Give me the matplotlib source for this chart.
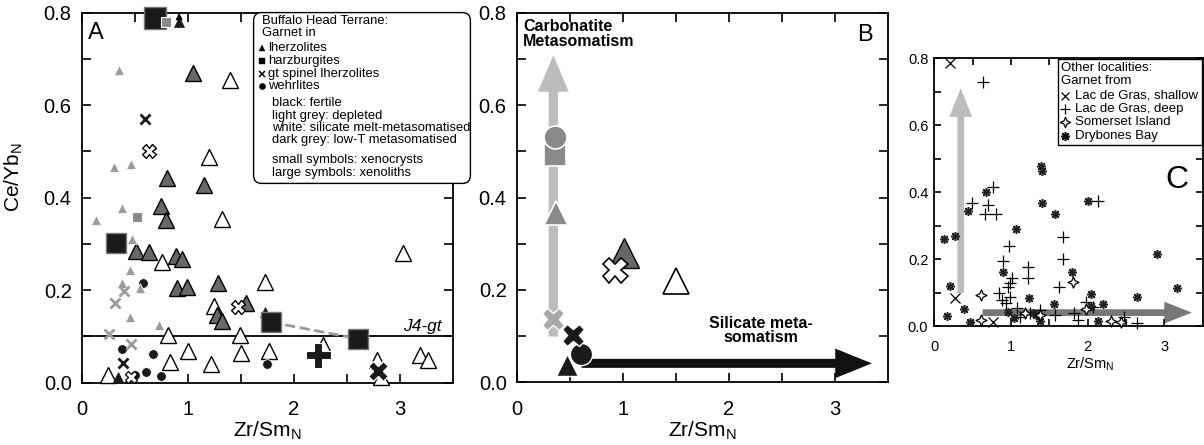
import matplotlib
matplotlib.use('Agg')
import matplotlib.pyplot as plt
from matplotlib.patches import FancyBboxPatch, FancyArrow, Rectangle
from matplotlib.path import Path
from matplotlib.ticker import FormatStrFormatter

plt.rcParams['font.family'] = ['Liberation Sans', 'DejaVu Sans']
plt.rcParams['mathtext.fontset'] = 'custom'
plt.rcParams['mathtext.rm'] = 'Liberation Sans'
plt.rcParams['mathtext.it'] = 'Liberation Sans:italic'

# ---------------- panel A : Buffalo Head Terrane garnets ----------------
a_tri_light_x = [0.35, 0.30, 0.46, 0.377, 0.135, 0.47, 0.455, 0.377, 0.55, 0.455, 0.73]
a_tri_light_y = [0.676, 0.467, 0.472, 0.377, 0.352, 0.31, 0.244, 0.215, 0.204, 0.141, 0.125]

a_tri_dark_x = [1.045, 0.80, 1.15, 0.744, 0.79, 0.51, 0.634, 0.885, 0.947, 0.894, 0.989,
                1.286, 1.271, 1.318, 1.547]
a_tri_dark_y = [0.669, 0.442, 0.427, 0.381, 0.352, 0.285, 0.282, 0.274, 0.267, 0.204, 0.206,
                0.215, 0.146, 0.134, 0.173]

a_tri_white_x = [1.40, 1.20, 1.324, 0.76, 1.726, 1.249, 0.81, 1.49, 1.004, 1.50, 1.76, 0.83,
                 1.215, 2.27, 2.78, 2.82, 3.03, 3.19, 3.26, 0.245]
a_tri_white_y = [0.654, 0.489, 0.355, 0.262, 0.218, 0.166, 0.103, 0.103, 0.069, 0.064, 0.069,
                 0.044, 0.040, 0.081, 0.049, 0.013, 0.28, 0.06, 0.049, 0.017]

a_tri_black_x = [0.918, 1.726, 0.34]
a_tri_black_y = [0.78, 0.153, 0.013]

a_sq_black_x = [0.69, 0.32, 1.78, 2.605]
a_sq_black_y = [0.788, 0.301, 0.131, 0.095]
a_sq_grey_x = [0.79, 0.518]
a_sq_grey_y = [0.78, 0.359]

a_x_black_x = [0.60, 0.386]
a_x_black_y = [0.570, 0.042]
a_x_light_x = [0.40, 0.314, 0.26, 0.464]
a_x_light_y = [0.199, 0.172, 0.105, 0.084]
a_x_white_x = [0.634, 1.469]
a_x_white_y = [0.501, 0.163]
a_x_white_small_x = [0.464]
a_x_white_small_y = [0.012]
a_x_big_x = [2.79]
a_x_big_y = [0.026]

a_circ_black_x = [0.574, 0.377, 0.675, 1.742, 0.50, 0.605, 0.744]
a_circ_black_y = [0.215, 0.073, 0.062, 0.040, 0.017, 0.024, 0.0145]

a_plus_x = [2.228]
a_plus_y = [0.060]

j4_level = 0.1

# ---------------- panel B : averages ----------------
b_grey_circle = (0.36, 0.530)
b_grey_square = (0.36, 0.492)
b_grey_tri = (0.37, 0.366)
b_light_x = (0.345, 0.136)
b_black_x = (0.533, 0.102)
b_black_circle = (0.61, 0.061)
b_black_tri = (0.47, 0.037)
b_dark_tri = (1.01, 0.279)
b_white_x = (0.925, 0.242)
b_white_tri = (1.505, 0.22)

b_carb_arrow_x = [0.345, 0.345]
b_carb_arrow_y = [0.099, 0.708]
b_sil_arrow_x = [0.61, 3.345]
b_sil_arrow_y = [0.041, 0.041]

# ---------------- panel C : other localities ----------------
c_shallow_x = [0.2, 0.27, 0.77]
c_shallow_y = [0.786, 0.083, 0.013]

c_deep_x = [0.64, 0.49, 0.76, 0.70, 0.66, 0.80, 0.98, 1.68, 1.68, 0.90, 1.22, 1.22, 1.02, 0.99,
            0.96, 0.85, 0.99, 0.88, 1.63, 2.13, 1.98, 2.07, 1.08, 1.12, 1.57, 1.82, 1.87, 0.94,
            2.65, 2.48, 1.245, 1.375]
c_deep_y = [0.729, 0.368, 0.416, 0.363, 0.336, 0.334, 0.240, 0.265, 0.200, 0.195, 0.177, 0.144,
            0.144, 0.129, 0.117, 0.098, 0.088, 0.078, 0.117, 0.374, 0.073, 0.058, 0.053, 0.028,
            0.033, 0.040, 0.018, 0.068, 0.008, 0.028, 0.038, 0.048]

c_somerset_x = [0.605, 0.605, 1.18, 1.375, 1.81, 1.98, 2.30, 2.44]
c_somerset_y = [0.093, 0.018, 0.040, 0.033, 0.132, 0.050, 0.016, 0.013]

c_drybones_x = [0.13, 0.27, 0.2, 0.165, 0.39, 0.44, 0.46, 0.68, 1.07, 1.39, 1.41, 1.40, 1.57,
                2.0, 1.79, 0.90, 1.24, 1.56, 2.04, 2.20, 2.05, 0.96, 1.04, 1.38, 1.29, 2.14,
                2.65, 2.91, 3.16, 1.33]
c_drybones_y = [0.26, 0.27, 0.12, 0.03, 0.05, 0.343, 0.013, 0.401, 0.289, 0.478, 0.463, 0.368,
                0.336, 0.374, 0.16, 0.16, 0.085, 0.065, 0.096, 0.065, 0.06, 0.043, 0.023,
                0.015, 0.04, 0.015, 0.086, 0.214, 0.113, 0.033]

c_carb_arrow_x = [0.345, 0.345]
c_carb_arrow_y = [0.098, 0.71]
c_sil_arrow_x = [0.63, 3.36]
c_sil_arrow_y = [0.04, 0.04]

# colours
BLACK = '#1a1a1a'
LIGHT = '#9c9c9c'
MID = '#8a8a8a'
DARK = '#686868'

W, H = 1204, 445
fig = plt.figure(figsize=(W / 100, H / 100), dpi=100)


def px_axes(x0, y0, x1, y1, **kw):
    # axes from pixel box (origin top-left)
    return fig.add_axes([x0 / W, 1 - y1 / H, (x1 - x0) / W, (y1 - y0) / H], **kw)


def style(ax, lsize, xpad, ypad, tlen):
    ax.set_xlim(0, 3.5)
    ax.set_ylim(0, 0.8)
    ax.set_xticks([0, 1, 2, 3])
    ax.set_xticks([0.5, 1.5, 2.5], minor=True)
    ax.set_yticks([0, 0.2, 0.4, 0.6, 0.8])
    ax.set_yticks([0.1, 0.3, 0.5, 0.7], minor=True)
    ax.xaxis.set_major_formatter(FormatStrFormatter('%d'))
    ax.yaxis.set_major_formatter(FormatStrFormatter('%.1f'))
    ax.tick_params(which='both', direction='in', top=True, right=True,
                   length=tlen, width=1.2, labelsize=lsize)
    ax.tick_params(axis='x', pad=xpad)
    ax.tick_params(axis='y', pad=ypad)
    for s in ax.spines.values():
        s.set_linewidth(1.3)


def pts(ax, x, y, marker, ms, fc, ec='black', ew=1.0, z=3):
    ax.plot(x, y, ls='none', marker=marker, ms=ms, mfc=fc, mec=ec, mew=ew,
            zorder=z, clip_on=False)


# ====================== A ======================
axA = px_axes(81.7, 12.7, 453.3, 382.7)
style(axA, 14.5, 12.7, 7.2, 6.5)
axA.axhline(j4_level, color='black', lw=1.3, zorder=2)
axA.plot(a_sq_black_x[2:], a_sq_black_y[2:], ls='--', color='#9a9a9a', lw=2, zorder=2)
axA.text(3.39, 0.121, 'J4-gt', fontsize=12.5, style='italic', ha='right', va='center')

pts(axA, a_tri_white_x, a_tri_white_y, '^', 11, 'white', 'black', 1.0, 3)
pts(axA, a_circ_black_x, a_circ_black_y, 'o', 7, BLACK, 'white', 0.6, 4)
pts(axA, a_tri_dark_x, a_tri_dark_y, '^', 11, DARK, 'black', 1.0, 4)
pts(axA, a_tri_light_x, a_tri_light_y, '^', 7.5, LIGHT, 'white', 0.5, 5)
pts(axA, a_sq_grey_x, a_sq_grey_y, 's', 7.5, MID, 'white', 0.8, 6)
pts(axA, a_x_light_x, a_x_light_y, 'x', 7, LIGHT, LIGHT, 2.0, 5)
pts(axA, a_x_black_x, a_x_black_y, 'x', 7, BLACK, BLACK, 2.0, 5)
pts(axA, a_tri_black_x, a_tri_black_y, '^', 7.5, BLACK, BLACK, 0.5, 5)
pts(axA, a_x_white_x, a_x_white_y, 'X', 10, 'white', 'black', 1.0, 6)
pts(axA, a_x_white_small_x, a_x_white_small_y, 'X', 8, 'white', 'black', 0.9, 6)
pts(axA, a_sq_black_x[1:], a_sq_black_y[1:], 's', 15, BLACK, '#777777', 1.0, 6)
pts(axA, a_sq_black_x[:1], a_sq_black_y[:1], 's', 16, BLACK, '#777777', 1.0, 5)
pts(axA, a_x_big_x, a_x_big_y, 'X', 14.5, BLACK, 'white', 1.0, 6)
pts(axA, a_plus_x, a_plus_y, 'P', 18, BLACK, 'white', 0.8, 6)
# off-scale point arrow
axA.annotate('', xy=(a_tri_black_x[0], 0.80), xytext=(a_tri_black_x[0], a_tri_black_y[0] + 0.004),
             arrowprops=dict(arrowstyle='-|>', color='black', lw=1.2, mutation_scale=9,
                             shrinkA=0, shrinkB=0), annotation_clip=False, zorder=6)

axA.text(0.135, 0.756, 'A', fontsize=17, ha='center', va='center')
axA.set_ylabel(r'Ce/Yb$_\mathregular{N}$', fontsize=15)
axA.yaxis.set_label_coords(-0.153, 0.556)
axA.set_xlabel(r'Zr/Sm$_\mathregular{N}$', fontsize=15)
axA.xaxis.set_label_coords(0.5, -0.10)

# legend box of A
lg = px_axes(253, 12, 471, 184)
lg.set_xlim(253, 471)
lg.set_ylim(184, 12)
lg.axis('off')
lg.add_patch(FancyBboxPatch((253.6, 12.6), 216.8, 170.8,
                            boxstyle='round,pad=0,rounding_size=8',
                            fc='white', ec='black', lw=1.0, clip_on=False))
LS = 9.4
lg.text(261.7, 20.7, 'Buffalo Head Terrane:', fontsize=LS, va='center')
lg.text(261.7, 33.3, 'Garnet in', fontsize=LS, va='center')
leg_kinds = ['lherzolites', 'harzburgites', 'gt spinel lherzolites', 'wehrlites']
leg_marks = [('^', 4.6, 0.3), ('s', 4.3, 0.3), ('x', 4.3, 1.1), ('o', 4.5, 0.3)]
for i, (lab, (m, ms, mw)) in enumerate(zip(leg_kinds, leg_marks)):
    yy = 48.3 + i * 12.6
    lg.plot([262], [yy], ls='none', marker=m, ms=ms, mfc='black', mec='black', mew=mw,
            clip_on=False)
    lg.text(268.5, yy, lab, fontsize=LS, va='center')
leg_notes = ['black: fertile', 'light grey: depleted', 'white: silicate melt-metasomatised',
             'dark grey: low-T metasomatised']
for i, lab in enumerate(leg_notes):
    lg.text(272.3, 103.3 + i * 12.2, lab, fontsize=LS, va='center')
leg_sizes = ['small symbols: xenocrysts', 'large symbols: xenoliths']
for i, lab in enumerate(leg_sizes):
    lg.text(272.3, 160 + i * 12.7, lab, fontsize=LS, va='center')

# ====================== B ======================
axB = px_axes(516.7, 12.7, 888.3, 382.3)
style(axB, 14.5, 12.7, 7.2, 6.5)
axB.add_patch(FancyArrow(b_carb_arrow_x[0], b_carb_arrow_y[0], 0,
                         b_carb_arrow_y[1] - b_carb_arrow_y[0], width=0.088,
                         head_width=0.29, head_length=0.079, length_includes_head=True,
                         color='#bdbdbd', lw=0, zorder=2))
axB.add_patch(FancyArrow(b_sil_arrow_x[0], b_sil_arrow_y[0],
                         b_sil_arrow_x[1] - b_sil_arrow_x[0], 0, width=0.0195,
                         head_width=0.064, head_length=0.345, length_includes_head=True,
                         color='#111111', lw=0, zorder=2))
pts(axB, *[[v] for v in b_grey_square], 's', 16.5, MID, 'white', 1.2, 4)
pts(axB, *[[v] for v in b_grey_circle], 'o', 16.5, MID, 'white', 1.2, 5)
pts(axB, *[[v] for v in b_grey_tri], '^', 17, MID, 'white', 1.2, 4)
pts(axB, *[[v] for v in b_light_x], 'X', 16, '#a8a8a8', 'white', 1.0, 4)
pts(axB, *[[v] for v in b_black_x], 'X', 16, BLACK, 'white', 1.0, 5)
pts(axB, *[[v] for v in b_black_circle], 'o', 16, BLACK, 'white', 1.0, 4)
pts(axB, *[[v] for v in b_black_tri], '^', 16.5, BLACK, 'white', 1.0, 4)
pts(axB, *[[v] for v in b_dark_tri], '^', 21, DARK, 'black', 1.0, 4)
pts(axB, *[[v] for v in b_white_x], 'X', 18, 'white', 'black', 1.2, 5)
pts(axB, *[[v] for v in b_white_tri], '^', 19, 'white', 'black', 1.2, 4)

axB.text(0.06, 0.786, 'Carbonatite\nMetasomatism', fontsize=11.5, fontweight='bold',
         ha='left', va='top', linespacing=0.95)
axB.text(2.30, 0.112, 'Silicate meta-\nsomatism', fontsize=11.5, fontweight='bold',
         ha='center', va='center', linespacing=0.95)
axB.text(3.28, 0.752, 'B', fontsize=17, ha='center', va='center')
axB.set_xlabel(r'Zr/Sm$_\mathregular{N}$', fontsize=15)
axB.xaxis.set_label_coords(0.5, -0.10)

# ====================== C ======================
axC = px_axes(934.3, 58.3, 1202.6, 326)
style(axC, 10.5, 10, 4.3, 5)
axC.add_patch(FancyArrow(c_carb_arrow_x[0], c_carb_arrow_y[0], 0,
                         c_carb_arrow_y[1] - c_carb_arrow_y[0], width=0.087,
                         head_width=0.30, head_length=0.085, length_includes_head=True,
                         color='#bdbdbd', lw=0, zorder=1))
axC.add_patch(FancyArrow(c_sil_arrow_x[0], c_sil_arrow_y[0],
                         c_sil_arrow_x[1] - c_sil_arrow_x[0], 0, width=0.02,
                         head_width=0.065, head_length=0.36, length_includes_head=True,
                         color='#777777', lw=0, zorder=1))

star4 = Path([(0, 1), (0.3, 0.3), (1, 0), (0.3, -0.3), (0, -1), (-0.3, -0.3), (-1, 0),
              (-0.3, 0.3), (0, 1)], closed=True)
asterisk = (8, 2, 0)
pts(axC, c_shallow_x, c_shallow_y, 'x', 7.5, 'black', 'black', 0.9, 3)
pts(axC, c_deep_x, c_deep_y, '+', 8, 'black', 'black', 0.9, 3)
pts(axC, c_somerset_x, c_somerset_y, star4, 8, 'white', 'black', 0.9, 4)
pts(axC, c_drybones_x, c_drybones_y, 'o', 4, '#9a9a9a', '#9a9a9a', 0, 3)
pts(axC, c_drybones_x, c_drybones_y, asterisk, 6.5, '#222222', '#222222', 1.1, 3)

axC.text(3.17, 0.436, 'C', fontsize=23, ha='center', va='center')
axC.set_xlabel(r'Zr/Sm$_\mathregular{N}$', fontsize=10.5)
axC.xaxis.set_label_coords(0.58, -0.112)

# legend box of C
lc = px_axes(1057.3, 58.3, 1202.6, 145)
lc.set_xlim(1057.3, 1202.6)
lc.set_ylim(145, 58.3)
lc.axis('off')
lc.add_patch(Rectangle((1057.8, 58.8), 144.3, 85.7, fc='white', ec='black', lw=1.0,
                       clip_on=False))
CS = 9.5
lc.text(1061, 68.3, 'Other localities:', fontsize=CS, va='center')
lc.text(1061, 81, 'Garnet from', fontsize=CS, va='center')
c_labels = ['Lac de Gras, shallow', 'Lac de Gras, deep', 'Somerset Island', 'Drybones Bay']
c_marks = [('x', 5.5, 0.9, 'black'), ('+', 7, 0.9, 'black'), (star4, 7.5, 0.9, 'white'),
           (asterisk, 6.5, 1.1, 'black')]
for i, (lab, (m, ms, mw, fc)) in enumerate(zip(c_labels, c_marks)):
    yy = 95.7 + i * 13.3
    lc.plot([1064.5], [yy], ls='none', marker=m, ms=ms, mfc=fc, mec='black', mew=mw,
            clip_on=False)
    lc.text(1075, yy, lab, fontsize=CS, va='center')

fig.savefig('out.png', dpi=100)
